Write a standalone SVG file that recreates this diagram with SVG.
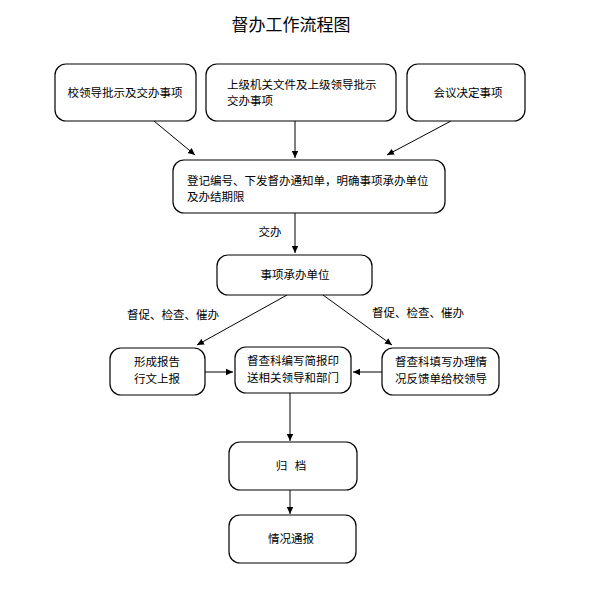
<svg xmlns="http://www.w3.org/2000/svg" width="589" height="611" viewBox="0 0 589 611">
<defs>
<marker id="ah" markerWidth="8" markerHeight="8" refX="7" refY="4" orient="auto" markerUnits="userSpaceOnUse">
<path d="M0,0.8 L7,4 L0,7.2 Z" fill="#000"/>
</marker>
<style>
.box{fill:#fff;stroke:#000;stroke-width:1.2}
.t{font-family:"Noto Sans CJK SC","Noto Sans",sans-serif;font-size:11.5px;fill:#000}
.c{text-anchor:middle}
.ln{stroke:#000;stroke-width:1;fill:none;marker-end:url(#ah)}
</style>
</defs>
<rect width="589" height="611" fill="#fff"/>
<text x="291" y="31" class="t c" style="font-size:17px">督办工作流程图</text>
<g id="connectors">
<line class="ln" x1="154" y1="121" x2="195" y2="155"/>
<line class="ln" x1="295" y1="121" x2="295" y2="158"/>
<line class="ln" x1="451" y1="121" x2="387" y2="155"/>
<line class="ln" x1="295" y1="213" x2="295" y2="253"/>
<text x="270" y="236" class="t c">交办</text>
<line class="ln" x1="287" y1="295" x2="197" y2="345"/>
<line class="ln" x1="323" y1="295" x2="392" y2="345"/>
<text x="127" y="319" class="t">督促、检查、催办</text>
<text x="372" y="317" class="t">督促、检查、催办</text>
<line class="ln" x1="205" y1="372" x2="233" y2="372"/>
<line class="ln" x1="382" y1="372" x2="353" y2="372"/>
<line class="ln" x1="290" y1="393" x2="290" y2="441"/>
<line class="ln" x1="290" y1="490" x2="290" y2="514"/>
</g>
<g id="n1"><rect class="box" x="55" y="64" width="141" height="57" rx="11"/><text x="125" y="97" class="t c">校领导批示及交办事项</text></g>
<g id="n2"><rect class="box" x="206" y="64" width="190" height="57" rx="11"/><text x="227" y="89" class="t">上级机关文件及上级领导批示</text><text x="227" y="105" class="t">交办事项</text></g>
<g id="n3"><rect class="box" x="407" y="64" width="118" height="57" rx="11"/><text x="468" y="97" class="t c">会议决定事项</text></g>
<g id="n4"><rect class="box" x="173" y="160" width="272" height="53" rx="11"/><text x="187" y="185" class="t">登记编号、下发督办通知单，明确事项承办单位</text><text x="187" y="201" class="t">及办结期限</text></g>
<g id="n5"><rect class="box" x="217" y="255" width="155" height="40" rx="11"/><text x="295" y="279" class="t c">事项承办单位</text></g>
<g id="n6"><rect class="box" x="110" y="348" width="95" height="47" rx="11"/><text x="157" y="366" class="t c">形成报告</text><text x="157" y="383" class="t c">行文上报</text></g>
<g id="n7"><rect class="box" x="235" y="347" width="116" height="46" rx="11"/><text x="293" y="365" class="t c">督查科编写简报印</text><text x="293" y="382" class="t c">送相关领导和部门</text></g>
<g id="n8"><rect class="box" x="382" y="348" width="117" height="47" rx="11"/><text x="441" y="366" class="t c">督查科填写办理情</text><text x="441" y="383" class="t c">况反馈单给校领导</text></g>
<g id="n9"><rect class="box" x="229" y="442" width="128" height="48" rx="11"/><text x="291" y="470" class="t c" xml:space="preserve">归   档</text></g>
<g id="n10"><rect class="box" x="229" y="515" width="127" height="48" rx="11"/><text x="291" y="543" class="t c">情况通报</text></g>
</svg>
